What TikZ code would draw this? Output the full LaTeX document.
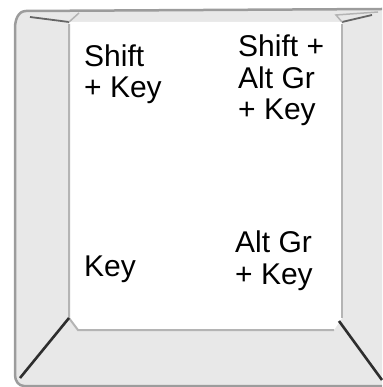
\documentclass[tikz,border=0pt]{standalone}
\usepackage{fontspec}
\setmainfont{Liberation Sans}
\usetikzlibrary{positioning}
\definecolor{panel}{HTML}{E8E8E8}
\definecolor{rim}{HTML}{9C9C9C}
\definecolor{edge}{HTML}{B4B4B4}
\definecolor{crease}{HTML}{2E2E2E}

\begin{document}
\begin{tikzpicture}[x=1pt,y=-1pt,
  lbl/.style={anchor=base west,inner sep=0pt,align=left,
              font=\fontsize{30}{31.5}\selectfont}]
  \useasboundingbox (0,0) rectangle (382,387);

  % outer body of the key cap
  \fill[panel] (15,28) -- (15,375)
    to[out=-90,in=180] (24,386) -- (382,386) -- (382,10) -- (26,11)
    to[out=180,in=90] (15,28) -- cycle;
  \draw[rim,line width=2.5pt] (382,386) -- (24,386)
    to[out=180,in=-90] (15,375) -- (15,28) to[out=90,in=180] (26,11)
    -- (382,9);

  % top face
  \fill[white] (69,22) -- (342,22) -- (342,318) -- (334,330)
    -- (78,330) -- (69,318) -- cycle;
  \draw[edge,line width=2pt] (69,24) -- (69,318) -- (78,330) -- (334,330);
  \draw[edge,line width=2pt] (342,24) -- (342,318);

  % corner creases
  \draw[crease,line width=2.6pt] (69,318) -- (20,378);
  \draw[crease,line width=2.6pt] (339,321) -- (382,380);
  \draw[crease,line width=1.8pt,opacity=0.7] (30,17) -- (69,22);
  \draw[crease,line width=1.8pt,opacity=0.7] (342,22) -- (372,15);
  \draw[edge,line width=1.5pt] (69,22) -- (79,13);
  \draw[edge,line width=1.5pt] (342,22) -- (336,15) -- (378,12);

  % legends
  \node[lbl] (shift) at (84,98) {Shift\\+ Key};
  \node[lbl] (shiftaltgr) at (238,120) {Shift +\\Alt Gr\\+ Key};
  \node[lbl] (plain) at (84,276) {Key};
  \node[lbl] (altgr) at (235,284) {Alt Gr\\+ Key};
\end{tikzpicture}
\end{document}
